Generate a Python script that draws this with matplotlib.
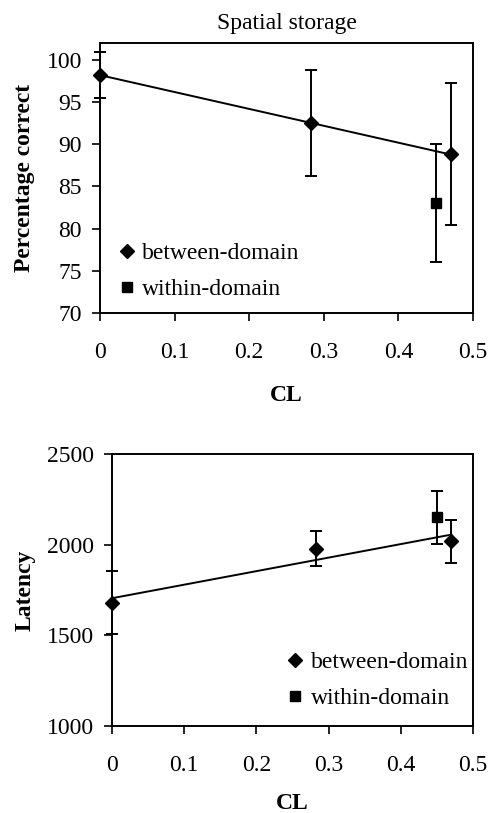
import matplotlib
matplotlib.use("Agg")
import matplotlib.pyplot as plt
from matplotlib.lines import Line2D
import numpy as np

plt.rcParams['font.family'] = ['Liberation Serif', 'DejaVu Serif']

# Data
cl_between = [0.0, 0.283, 0.47]
cl_within = [0.45]

acc_between = [98.2, 92.5, 88.8]
acc_between_err = [2.7, 6.3, 8.4]
acc_within = [83.0]
acc_within_err = [7.0]

lat_between = [1680, 1978, 2018]
lat_between_err = [175, 98, 120]
lat_within = [2150]
lat_within_err = [148]

xticks = [0, 0.1, 0.2, 0.3, 0.4, 0.5]
xticklabels = ["0", "0.1", "0.2", "0.3", "0.4", "0.5"]
acc_yticks = [70, 75, 80, 85, 90, 95, 100]
lat_yticks = [1000, 1500, 2000, 2500]
legend_labels = ["between-domain", "within-domain"]

W, H = 490, 813
fig = plt.figure(figsize=(W / 100, H / 100), dpi=100)

def ax_at(l, t, r, b):
    return fig.add_axes([l / W, 1 - b / H, (r - l) / W, (b - t) / H])

ax1 = ax_at(100, 43, 473, 313)
ax2 = ax_at(112, 454, 473, 726)

FS = 17

def draw(ax, yb, yb_err, yw, yw_err, ylim, yticks, xpad, lpad):
    xs = np.array(cl_between)
    coef = np.polyfit(xs, yb, 1)
    xl = np.array([0, max(cl_between)])
    ax.plot(xl, np.polyval(coef, xl), color='black', lw=1.4, zorder=2)
    ax.errorbar(cl_between, yb, yerr=yb_err, fmt='D', color='black', ms=7,
                ecolor='black', elinewidth=1.4, capsize=4.5, capthick=1.4,
                clip_on=False, zorder=3)
    ax.errorbar(cl_within, yw, yerr=yw_err, fmt='s', color='black', ms=6.5,
                ecolor='black', elinewidth=1.4, capsize=4.5, capthick=1.4,
                clip_on=False, zorder=3)
    ax.set_xlim(0, 0.5)
    ax.set_ylim(*ylim)
    ax.set_xticks(xticks)
    ax.set_xticklabels(xticklabels)
    ax.set_yticks(yticks)
    ax.tick_params(axis='both', direction='out', length=6, width=1.2, labelsize=FS)
    ax.tick_params(axis='x', pad=xpad)
    ax.tick_params(axis='y', pad=7)
    for s in ax.spines.values():
        s.set_linewidth(1.4)
    ax.set_xlabel('CL', fontsize=FS, fontweight='bold', labelpad=lpad)

draw(ax1, acc_between, acc_between_err, acc_within, acc_within_err, (70, 102), acc_yticks, 15, 16)
draw(ax2, lat_between, lat_between_err, lat_within, lat_within_err, (1000, 2500), lat_yticks, 15, 12)

ax1.set_ylabel('Percentage correct', fontsize=FS, fontweight='bold', labelpad=8)
ax2.set_ylabel('Latency', fontsize=FS, fontweight='bold', labelpad=8)
ax1.set_title('Spatial storage', fontsize=FS, pad=10)

def legend(ax, anchor):
    hh = [Line2D([], [], marker='D', ls='', color='black', ms=7),
          Line2D([], [], marker='s', ls='', color='black', ms=6.5)]
    ax.legend(hh, legend_labels, loc='center left', bbox_to_anchor=anchor,
              frameon=False, fontsize=FS, handlelength=0.6, handletextpad=0.35,
              labelspacing=0.6, borderaxespad=0.0)

legend(ax1, (0.028, 0.154))
legend(ax2, (0.462, 0.167))

fig.savefig('out.png', dpi=100)
